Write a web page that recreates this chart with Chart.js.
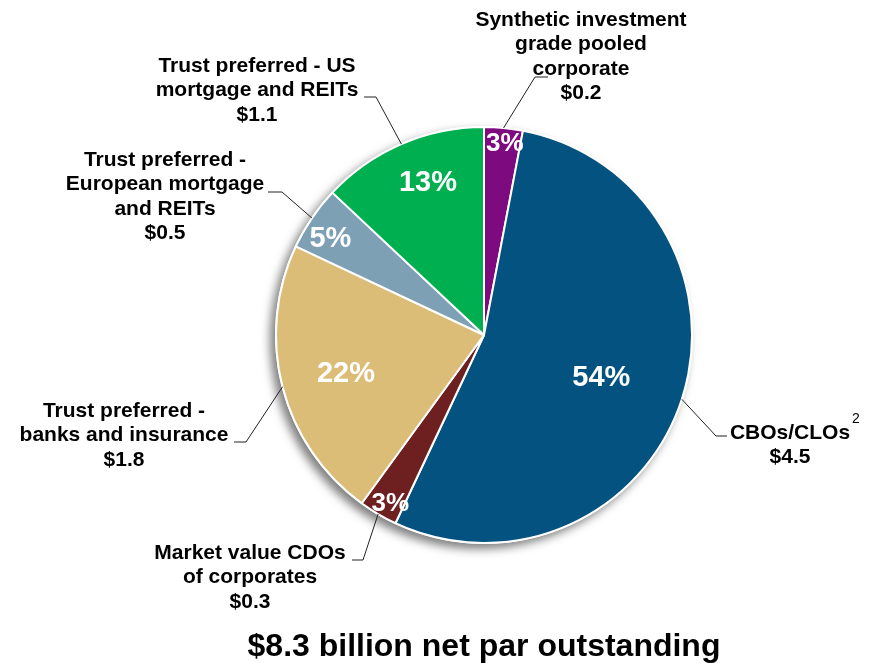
<!DOCTYPE html>
<html>
<head>
<meta charset="utf-8">
<script src="https://cdn.jsdelivr.net/npm/chart.js@4/dist/chart.umd.min.js"></script>
<style>
  html, body { margin: 0; padding: 0; background: #fff; }
  #wrap { width: 869px; height: 663px; position: relative; }
</style>
</head>
<body>
<div id="wrap"><canvas id="pie"></canvas></div>
<script>
// 区分ごとの構成比（%）と想定元本（十億ドル）
const categories = [
	"Synthetic investment grade pooled corporate",
	"CBOs/CLOs",
	"Market value CDOs of corporates",
	"Trust preferred - banks and insurance",
	"Trust preferred - European mortgage and REITs",
	"Trust preferred - US mortgage and REITs",
];
const shares = [3, 54, 3, 22, 5, 13];
const netPar = [0.2, 4.5, 0.3, 1.8, 0.5, 1.1];
const totalNetPar = 8.3;

// 吹き出しラベルの行分け
const labelLines = [
	["Synthetic investment", "grade pooled", "corporate"],
	["CBOs/CLOs"],
	["Market value CDOs", "of corporates"],
	["Trust preferred -", "banks and insurance"],
	["Trust preferred -", "European mortgage", "and REITs"],
	["Trust preferred - US", "mortgage and REITs"],
];

const colors = ["#7d0a7e", "#03527f", "#6e2020", "#dbbd77", "#7ea0b4", "#00b050"];

// レイアウト: ラベル中心x・1行目y、引き出し線の折れ点と水平線の端
const callouts = [
	{ x: 581, y: 20, elbow: [535, 77], tail: 548 },
	{ x: 790, y: 433, elbow: [716, 436], tail: 727 },
	{ x: 250, y: 553, elbow: [363, 560], tail: 352 },
	{ x: 124, y: 411, elbow: [246, 442], tail: 234 },
	{ x: 165, y: 160, elbow: [282, 192], tail: 268 },
	{ x: 257, y: 66, elbow: [376, 97], tail: 364 },
];
// 構成比ラベルの半径比・角度の微調整（度）・文字サイズ
const pctRadius = [0.925, 0.6, 0.93, 0.69, 0.87, 0.78];
const pctShift = [0.8, 2, -1.6, -1.4, -2.3, 3.2];
const pctSize = [26, 29, 26, 29, 29, 29];

const FONT = '"Liberation Sans", Arial, sans-serif';
const LINE_H = 24.5;

const fmtMoney = (v) => "$" + v.toFixed(1);

// 円の影（左下）
const shadowPlugin = {
	id: "pieShadow",
	beforeDatasetsDraw(chart) {
		const arc = chart.getDatasetMeta(0).data[0];
		if (!arc) return;
		const { x, y, outerRadius } = arc.getProps(["x", "y", "outerRadius"], true);
		const ctx = chart.ctx;
		ctx.save();
		ctx.shadowColor = "rgba(0,0,0,0.5)";
		ctx.shadowBlur = 10;
		ctx.shadowOffsetX = -5;
		ctx.shadowOffsetY = 5;
		ctx.fillStyle = "#fff";
		ctx.beginPath();
		ctx.arc(x, y, outerRadius + 1, 0, Math.PI * 2);
		ctx.fill();
		ctx.restore();
	},
};

// 構成比ラベル、引き出し線、区分ラベル、合計タイトル
const labelPlugin = {
	id: "pieLabels",
	afterDatasetsDraw(chart) {
		const ctx = chart.ctx;
		const arcs = chart.getDatasetMeta(0).data;
		ctx.save();
		arcs.forEach((arc, i) => {
			const { x, y, startAngle, endAngle, outerRadius } = arc.getProps(
				["x", "y", "startAngle", "endAngle", "outerRadius"],
				true
			);
			const mid = (startAngle + endAngle) / 2;

			// 構成比
			const a = mid + (pctShift[i] * Math.PI) / 180;
			const r = outerRadius * pctRadius[i];
			ctx.fillStyle = "#fff";
			ctx.font = `bold ${pctSize[i]}px ${FONT}`;
			ctx.textAlign = "center";
			ctx.textBaseline = "middle";
			ctx.fillText(shares[i] + "%", x + Math.cos(a) * r, y + Math.sin(a) * r);

			// 引き出し線
			const c = callouts[i];
			ctx.strokeStyle = "#222";
			ctx.lineWidth = 1;
			ctx.beginPath();
			ctx.moveTo(x + Math.cos(mid) * outerRadius, y + Math.sin(mid) * outerRadius);
			ctx.lineTo(c.elbow[0], c.elbow[1]);
			ctx.lineTo(c.tail, c.elbow[1]);
			ctx.stroke();

			// 区分ラベル
			ctx.fillStyle = "#000";
			ctx.font = `bold 21px ${FONT}`;
			const lines = labelLines[i].concat([fmtMoney(netPar[i])]);
			lines.forEach((t, k) => {
				ctx.fillText(t, c.x, c.y + k * LINE_H);
			});
			if (i === 1) {
				// 脚注番号
				const w = ctx.measureText(labelLines[i][0]).width;
				ctx.font = `14px ${FONT}`;
				ctx.textAlign = "left";
				ctx.fillText("2", c.x + w / 2 + 2, c.y - 14);
				ctx.textAlign = "center";
			}
		});

		ctx.fillStyle = "#000";
		ctx.font = `bold 32px ${FONT}`;
		ctx.textAlign = "center";
		ctx.textBaseline = "middle";
		ctx.fillText(`$${totalNetPar} billion net par outstanding`, 484, 647);
		ctx.restore();
	},
};

new Chart(document.getElementById("pie"), {
	type: "pie",
	data: {
		labels: categories,
		datasets: [
			{
				data: shares,
				backgroundColor: colors,
				borderColor: "#fff",
				borderWidth: 2,
			},
		],
	},
	options: {
		responsive: true,
		maintainAspectRatio: false,
		animation: false,
		layout: { padding: { top: 126, bottom: 119, left: 275, right: 176 } },
		plugins: {
			legend: { display: false },
			tooltip: { enabled: false },
		},
	},
	plugins: [shadowPlugin, labelPlugin],
});
</script>
</body>
</html>
